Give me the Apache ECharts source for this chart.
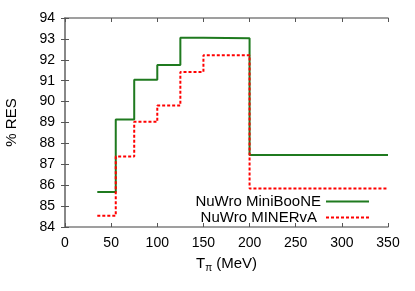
<!DOCTYPE html>
<html><head><meta charset="utf-8">
<script src="https://cdn.jsdelivr.net/npm/echarts@6/dist/echarts.min.js"></script>
<style>html,body{margin:0;padding:0;background:#fff}#c{width:415px;height:291px}</style>
</head><body><div id="c"></div>
<script>
const binEdges = [35, 55, 75, 100, 125, 150, 200, 350];
const miniBooNE = [85.67, 89.14, 91.04, 91.75, 93.05, 93.03, 87.44];
const minerva = [84.54, 87.37, 89.03, 89.81, 91.42, 92.22, 85.84];
const seriesNames = ['NuWro MiniBooNE', 'NuWro MINERvA'];
const xTicks = [0, 50, 100, 150, 200, 250, 300, 350];
const yTicks = [84, 85, 86, 87, 88, 89, 90, 91, 92, 93, 94];

function stepData(vals) {
  return binEdges.map((x, i) => [x, vals[Math.min(i, vals.length - 1)]]);
}
const font = 'Liberation Sans, Arial, sans-serif';
const axisColor = '#808080';
const chart = echarts.init(document.getElementById('c'));
const baseX = {
  type: 'value', min: xTicks[0], max: xTicks[xTicks.length - 1], interval: 50,
  axisLine: { show: true, lineStyle: { color: axisColor, width: 1.5 } },
  axisTick: { show: true, inside: true, length: 4, lineStyle: { color: '#555', width: 1 } },
  splitLine: { show: false }
};
const baseY = {
  type: 'value', min: yTicks[0], max: yTicks[yTicks.length - 1], interval: 1,
  axisLine: { show: true, lineStyle: { color: axisColor, width: 1.5 } },
  axisTick: { show: true, inside: true, length: 4, lineStyle: { color: '#555', width: 1 } },
  splitLine: { show: false }
};
const legendBase = {
  orient: 'vertical', align: 'right', right: 45,
  itemWidth: 43, itemHeight: 14, itemGap: 0, padding: 0,
  itemStyle: { opacity: 0 }
};
chart.setOption({
  animation: false,
  grid: { left: 65, right: 27, top: 18, bottom: 64, containLabel: false, outerBoundsMode: 'none' },
  xAxis: [
    Object.assign({}, baseX, {
      position: 'bottom',
      name: '{a|T}{s|π}{a| (MeV)}', nameLocation: 'middle', nameGap: 27,
      nameTextStyle: { rich: {
        a: { fontFamily: font, fontSize: 15, color: '#000' },
        s: { fontFamily: font, fontSize: 10, color: '#000', verticalAlign: 'bottom', padding: [9, 0, 0, 0] }
      } },
      axisLabel: { fontFamily: font, fontSize: 14, color: '#000', margin: 9 }
    }),
    Object.assign({}, baseX, { position: 'top', axisLabel: { show: false } })
  ],
  yAxis: [
    Object.assign({}, baseY, {
      position: 'left',
      name: '% RES', nameLocation: 'middle', nameGap: 46, nameRotate: 90,
      nameTextStyle: { fontFamily: font, fontSize: 15, color: '#000' },
      axisLabel: { fontFamily: font, fontSize: 14, color: '#000', margin: 10 }
    }),
    Object.assign({}, baseY, { position: 'right', axisLabel: { show: false } })
  ],
  legend: [
    Object.assign({}, legendBase, {
      top: 194, data: [seriesNames[0]],
      textStyle: { fontFamily: font, fontSize: 15, color: '#000' }
    }),
    Object.assign({}, legendBase, {
      top: 210, data: [seriesNames[1]],
      textStyle: { fontFamily: font, fontSize: 15, color: '#000', padding: [0, 4, 0, 0] }
    })
  ],
  series: [
    { name: seriesNames[0], type: 'line', step: 'end', showSymbol: false, symbol: 'none',
      data: stepData(miniBooNE), lineStyle: { color: '#1f7a1f', width: 2 }, itemStyle: { color: '#1f7a1f' } },
    { name: seriesNames[1], type: 'line', step: 'end', showSymbol: false, symbol: 'none',
      data: stepData(minerva), lineStyle: { color: '#ff0000', width: 2, type: [3, 2] }, itemStyle: { color: '#ff0000' } }
  ]
});
</script></body></html>
